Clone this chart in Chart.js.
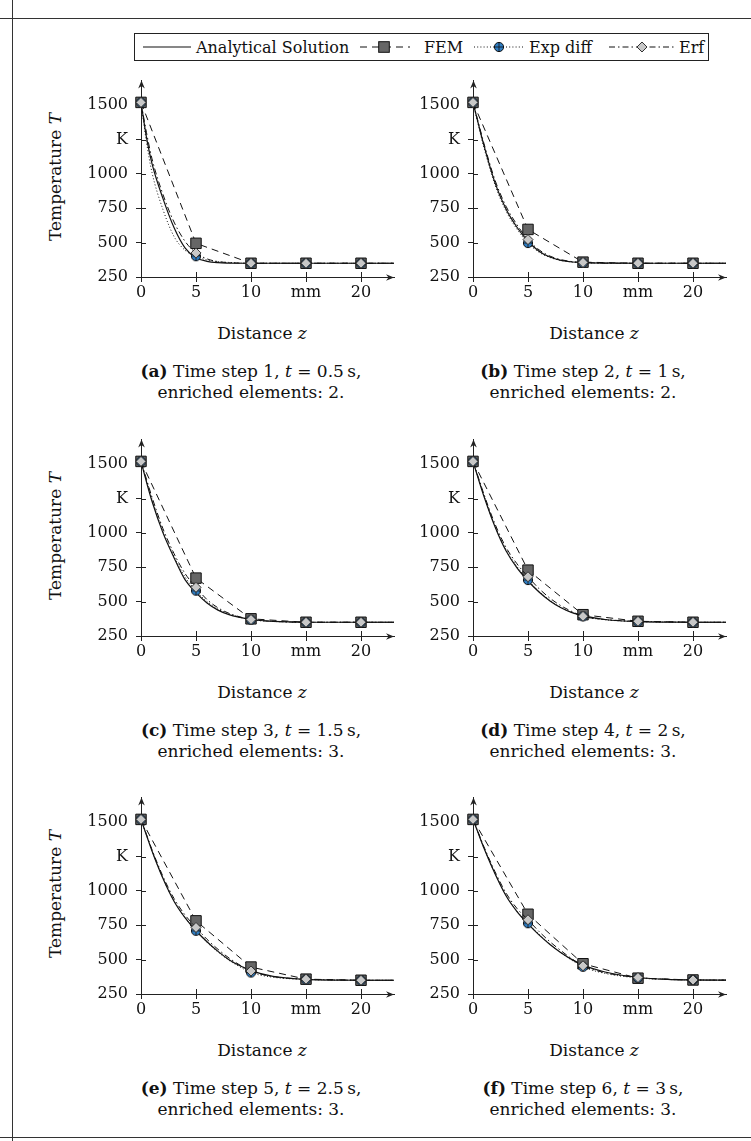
<!DOCTYPE html>
<html>
<head>
<meta charset="utf-8">
<title>Temperature profiles</title>
<script src="https://cdn.jsdelivr.net/npm/chart.js@4.4.1/dist/chart.umd.min.js"></script>
<style>
  html, body { margin: 0; padding: 0; background: #fff; }
  body { position: relative; width: 751px; height: 1141px; overflow: hidden;
         font-family: 'DejaVu Serif', serif; color: #111; }
  .rule { position: absolute; background: #333; }
  .plot { position: absolute; }
  .txt { position: absolute; white-space: nowrap; font-size: 17px; line-height: 21px; }
  .ylabel { transform: translate(-50%, -50%) rotate(-90deg); }
  .xlabel { transform: translate(-50%, -50%); }
  .caption { transform: translateX(-50%); text-align: center; }
  #legend { position: absolute; left: 134px; top: 33px; width: 575px; height: 28px;
            border: 1px solid #222; box-sizing: border-box; }
  .lg { position: absolute; top: 47px; transform: translateY(-50%); font-size: 16px; white-space: nowrap; }
  .lg svg { display: block; }
</style>
</head>
<body>
<div class="rule" style="left:0;top:18px;width:751px;height:1px"></div>
<div class="rule" style="left:12px;top:0;width:1px;height:1141px"></div>
<div class="rule" style="left:0;top:1137px;width:751px;height:1px"></div>
<div id="legend"></div>

<script>
// mesh nodes (mm) and the positions where the continuous curves are sampled
const nodes = [0, 5, 10, 15, 20, 25];
const zCurve = [0, 0.5, 1, 2, 3, 4, 5, 6, 7, 8, 9, 10, 12, 15, 18, 20, 25];

const xTicks = [0, 5, 10, 15, 20];
const xTickLabels = ['0', '5', '10', 'mm', '20'];
const yTicks = [250, 500, 750, 1000, 1250, 1500];
const yTickLabels = ['250', '500', '750', '1000', 'K', '1500'];

const seriesNames = ['Analytical Solution', 'FEM', 'Exp diff', 'Erf'];

// time step 1, t = 0.5 s
const analytical1 = [1520, 1265, 1075, 820, 610, 462, 390, 364, 354, 351, 350, 350, 350, 350, 350, 350, 350];
const expDiff1    = [1520, 1230, 1010, 740, 545, 445, 401, 374, 362, 356, 352, 350, 350, 350, 350, 350, 350];
const erf1        = [1520, 1300, 1110, 850, 650, 510, 425, 382, 362, 354, 351, 350, 350, 350, 350, 350, 350];
const fem1        = [1520, 495, 350, 350, 350, 350];

// time step 2, t = 1 s
const analytical2 = [1520, 1360, 1205, 935, 745, 612, 510, 438, 395, 371, 359, 354, 351, 350, 350, 350, 350];
const expDiff2    = [1520, 1350, 1190, 920, 730, 598, 497, 430, 392, 370, 359, 354, 351, 350, 350, 350, 350];
const erf2        = [1520, 1370, 1220, 955, 765, 630, 522, 448, 402, 376, 362, 356, 351, 350, 350, 350, 350];
const fem2        = [1520, 596, 358, 350, 350, 350];

// time step 3, t = 1.5 s
const analytical3 = [1520, 1370, 1230, 1000, 820, 660, 565, 490, 438, 405, 385, 370, 356, 350, 350, 350, 350];
const expDiff3    = [1520, 1380, 1245, 1010, 830, 680, 580, 500, 445, 410, 386, 368, 356, 350, 350, 350, 350];
const erf3        = [1520, 1390, 1260, 1030, 850, 705, 604, 515, 455, 415, 389, 370, 357, 350, 350, 350, 350];
const fem3        = [1520, 671, 375, 350, 350, 350];

// time step 4, t = 2 s
const analytical4 = [1520, 1390, 1265, 1045, 870, 745, 650, 570, 505, 455, 420, 398, 370, 354, 351, 350, 350];
const expDiff4    = [1520, 1395, 1270, 1050, 878, 755, 657, 575, 510, 458, 420, 393, 368, 355, 351, 350, 350];
const erf4        = [1520, 1400, 1280, 1065, 895, 775, 681, 595, 525, 470, 428, 393, 370, 357, 352, 350, 350];
const fem4        = [1520, 729, 405, 357, 350, 350];

// time step 5, t = 2.5 s
const analytical5 = [1520, 1405, 1290, 1090, 925, 805, 710, 630, 560, 500, 455, 420, 378, 356, 351, 350, 350];
const expDiff5    = [1520, 1405, 1292, 1092, 928, 806, 710, 626, 555, 495, 447, 406, 372, 356, 351, 350, 350];
const erf5        = [1520, 1410, 1300, 1105, 945, 825, 734, 648, 575, 512, 460, 417, 377, 358, 352, 350, 350];
const fem5        = [1520, 782, 446, 358, 350, 350];

// time step 6, t = 3 s
const analytical6 = [1520, 1415, 1310, 1125, 965, 850, 760, 680, 610, 550, 500, 460, 410, 370, 355, 352, 350];
const expDiff6    = [1520, 1415, 1312, 1127, 968, 852, 765, 685, 612, 550, 495, 448, 400, 367, 355, 352, 350];
const erf6        = [1520, 1420, 1320, 1140, 985, 872, 790, 705, 630, 565, 505, 455, 405, 370, 356, 352, 350];
const fem6        = [1520, 830, 470, 365, 352, 350];

const captionLetters = ['a', 'b', 'c', 'd', 'e', 'f'];
const captionSteps = [1, 2, 3, 4, 5, 6];
const captionTimes = ['0.5', '1', '1.5', '2', '2.5', '3'];
const captionEnriched = [2, 2, 3, 3, 3, 3];

const steps = [
  { ana: analytical1, exp: expDiff1, erf: erf1, fem: fem1 },
  { ana: analytical2, exp: expDiff2, erf: erf2, fem: fem2 },
  { ana: analytical3, exp: expDiff3, erf: erf3, fem: fem3 },
  { ana: analytical4, exp: expDiff4, erf: erf4, fem: fem4 },
  { ana: analytical5, exp: expDiff5, erf: erf5, fem: fem5 },
  { ana: analytical6, exp: expDiff6, erf: erf6, fem: fem6 }
];

// layout of the 3x2 grid: pixel position of each plot's origin (z = 0, T = 250)
const axisX = [141, 473];
const axisBottom = [277, 636, 994];
const yAxisW = 60, xAxisH = 30, padTop = 6, padRight = 14;
const areaW = 253, areaH = 199;

const ink = '#111';
const axisColor = '#222';
const femFill = '#666';
const expFill = '#2f7ec4';
const erfFill = '#c8c8c8';

Chart.defaults.font.family = "'DejaVu Serif', serif";
Chart.defaults.font.size = 16;
Chart.defaults.color = ink;

function circleCross() {
  const c = document.createElement('canvas');
  c.width = 12; c.height = 12;
  const g = c.getContext('2d');
  g.beginPath();
  g.arc(6, 6, 4.6, 0, Math.PI * 2);
  g.fillStyle = expFill;
  g.fill();
  g.lineWidth = 1;
  g.strokeStyle = ink;
  g.stroke();
  g.beginPath();
  g.lineWidth = 0.8;
  g.moveTo(1.4, 6); g.lineTo(10.6, 6);
  g.moveTo(6, 1.4); g.lineTo(6, 10.6);
  g.stroke();
  return c;
}
const expMarker = circleCross();

const toPoints = (xs, ys) => xs.map((x, i) => ({ x: x, y: ys[i] }));
const atNodes = r => ctx => (zCurve[ctx.dataIndex] % 5 === 0 ? r : 0);

function stealth(ctx, tx, ty, dx, dy) {
  const nx = -dy, ny = dx;
  ctx.beginPath();
  ctx.moveTo(tx, ty);
  ctx.lineTo(tx - dx * 8 + nx * 3.3, ty - dy * 8 + ny * 3.3);
  ctx.lineTo(tx - dx * 5.5, ty - dy * 5.5);
  ctx.lineTo(tx - dx * 8 - nx * 3.3, ty - dy * 8 - ny * 3.3);
  ctx.closePath();
  ctx.fill();
}

// pgfplots-like axes: ticks crossing the axis lines and arrow tips at the ends
const pgfAxes = {
  id: 'pgfAxes',
  beforeDatasetsDraw(chart) {
    const { ctx, chartArea: a, scales: { x, y } } = chart;
    ctx.save();
    ctx.strokeStyle = axisColor;
    ctx.fillStyle = axisColor;
    ctx.lineWidth = 1;
    ctx.beginPath();
    xTicks.forEach(v => {
      const px = Math.round(x.getPixelForValue(v)) + 0.5;
      ctx.moveTo(px, a.bottom);
      ctx.lineTo(px, a.bottom - 5);
    });
    yTicks.forEach(v => {
      const py = Math.round(y.getPixelForValue(v)) + 0.5;
      ctx.moveTo(a.left, py);
      ctx.lineTo(a.left + 5, py);
    });
    ctx.stroke();
    stealth(ctx, Math.round(a.left) + 0.5, a.top, 0, -1);
    stealth(ctx, a.right, Math.round(a.bottom) + 0.5, 1, 0);
    ctx.restore();
  }
};

const clipBox = { left: 12, top: 12, right: 0, bottom: 12 };

function makeDatasets(s) {
  return [
    {
      label: seriesNames[0], data: toPoints(zCurve, s.ana), order: 3,
      borderColor: ink, borderWidth: 1.2, pointRadius: 0,
      cubicInterpolationMode: 'monotone', clip: clipBox
    },
    {
      label: seriesNames[1], data: toPoints(nodes, s.fem), order: 2,
      borderColor: ink, borderWidth: 1, borderDash: [7, 5], tension: 0,
      pointStyle: 'rect', pointRadius: 7.4, pointBorderWidth: 1,
      pointBackgroundColor: femFill, pointBorderColor: ink, clip: clipBox
    },
    {
      label: seriesNames[2], data: toPoints(zCurve, s.exp), order: 1,
      borderColor: ink, borderWidth: 1, borderDash: [1, 2.2],
      cubicInterpolationMode: 'monotone',
      pointStyle: expMarker, pointRadius: atNodes(5), clip: clipBox
    },
    {
      label: seriesNames[3], data: toPoints(zCurve, s.erf), order: 0,
      borderColor: ink, borderWidth: 1, borderDash: [6, 3, 1.5, 3],
      cubicInterpolationMode: 'monotone',
      pointStyle: 'rectRot', pointRadius: atNodes(5), pointBorderWidth: 1,
      pointBackgroundColor: erfFill, pointBorderColor: '#333', clip: clipBox
    }
  ];
}

function addText(cls, html, left, top) {
  const d = document.createElement('div');
  d.className = 'txt ' + cls;
  d.innerHTML = html;
  d.style.left = left + 'px';
  d.style.top = top + 'px';
  document.body.appendChild(d);
}

steps.forEach((s, i) => {
  const col = i % 2, row = Math.floor(i / 2);
  const x0 = axisX[col], y0 = axisBottom[row];

  const canvas = document.createElement('canvas');
  const w = yAxisW + areaW + padRight, h = padTop + areaH + xAxisH;
  canvas.width = w; canvas.height = h;
  canvas.className = 'plot';
  canvas.style.width = w + 'px';
  canvas.style.height = h + 'px';
  canvas.style.left = (x0 - yAxisW) + 'px';
  canvas.style.top = (y0 - areaH - padTop) + 'px';
  document.body.appendChild(canvas);

  new Chart(canvas, {
    type: 'line',
    data: { datasets: makeDatasets(s) },
    plugins: [pgfAxes],
    options: {
      responsive: false,
      animation: false,
      events: [],
      layout: { padding: { left: 0, top: padTop, right: padRight, bottom: 0 } },
      plugins: { legend: { display: false }, tooltip: { enabled: false } },
      scales: {
        x: {
          type: 'linear', min: 0, max: 23,
          afterBuildTicks: sc => { sc.ticks = xTicks.map(v => ({ value: v })); },
          afterFit: sc => { sc.height = xAxisH; sc.paddingLeft = 0; sc.paddingRight = 0; },
          ticks: { autoSkip: false, maxRotation: 0, padding: 1, color: ink,
                   callback: (v, idx) => xTickLabels[idx] },
          grid: { drawOnChartArea: false, drawTicks: true, tickLength: 5, color: axisColor, lineWidth: 1 },
          border: { display: true, color: axisColor, width: 1 }
        },
        y: {
          type: 'linear', min: 250, max: 1680,
          afterBuildTicks: sc => { sc.ticks = yTicks.map(v => ({ value: v })); },
          afterFit: sc => { sc.width = yAxisW; sc.paddingTop = 0; sc.paddingBottom = 0; },
          ticks: { autoSkip: false, padding: 8, color: ink,
                   callback: (v, idx) => yTickLabels[idx] },
          grid: { drawOnChartArea: false, drawTicks: true, tickLength: 5, color: axisColor, lineWidth: 1 },
          border: { display: true, color: axisColor, width: 1 }
        }
      }
    }
  });

  if (col === 0) addText('ylabel', 'Temperature <i>T</i>', x0 - 86, y0 - 100);
  addText('xlabel', 'Distance <i>z</i>', x0 + 121, y0 + 56);
  addText('caption',
    '<b>(' + captionLetters[i] + ')</b> Time step ' + captionSteps[i] + ', <i>t</i> = ' +
    captionTimes[i] + '&thinsp;s,<br>enriched elements: ' + captionEnriched[i] + '.',
    x0 + 110, y0 + 84);
});

// shared legend above the grid
const legendSamples = [
  '<line x1="0" y1="6" x2="48" y2="6" stroke="' + ink + '" stroke-width="1.2"/>',
  '<line x1="0" y1="6" x2="52" y2="6" stroke="' + ink + '" stroke-dasharray="7 5" stroke-dashoffset="-2"/>' +
    '<rect x="20.7" y="0.7" width="10.6" height="10.6" fill="' + femFill + '" stroke="' + ink + '"/>',
  '<line x1="0" y1="6" x2="50" y2="6" stroke="' + ink + '" stroke-dasharray="1 2.2"/>' +
    '<circle cx="25" cy="6" r="4.6" fill="' + expFill + '" stroke="' + ink + '"/>' +
    '<path d="M20.4 6H29.6M25 1.4V10.6" stroke="' + ink + '" stroke-width="0.8"/>',
  '<line x1="0" y1="6" x2="66" y2="6" stroke="' + ink + '" stroke-dasharray="6 3 1.5 3"/>' +
    '<path d="M33 1L38 6L33 11L28 6Z" fill="' + erfFill + '" stroke="#333"/>'
];
const legendSampleX = [143, 358, 474, 609];
const legendSampleW = [48, 52, 50, 66];
const legendTextX = [196, 424, 529, 679];

seriesNames.forEach((name, i) => {
  const sample = document.createElement('div');
  sample.className = 'lg';
  sample.style.left = legendSampleX[i] + 'px';
  sample.innerHTML = '<svg width="' + legendSampleW[i] + '" height="12">' + legendSamples[i] + '</svg>';
  document.body.appendChild(sample);
  const label = document.createElement('div');
  label.className = 'lg';
  label.style.left = legendTextX[i] + 'px';
  label.textContent = name;
  document.body.appendChild(label);
});
</script>
</body>
</html>
